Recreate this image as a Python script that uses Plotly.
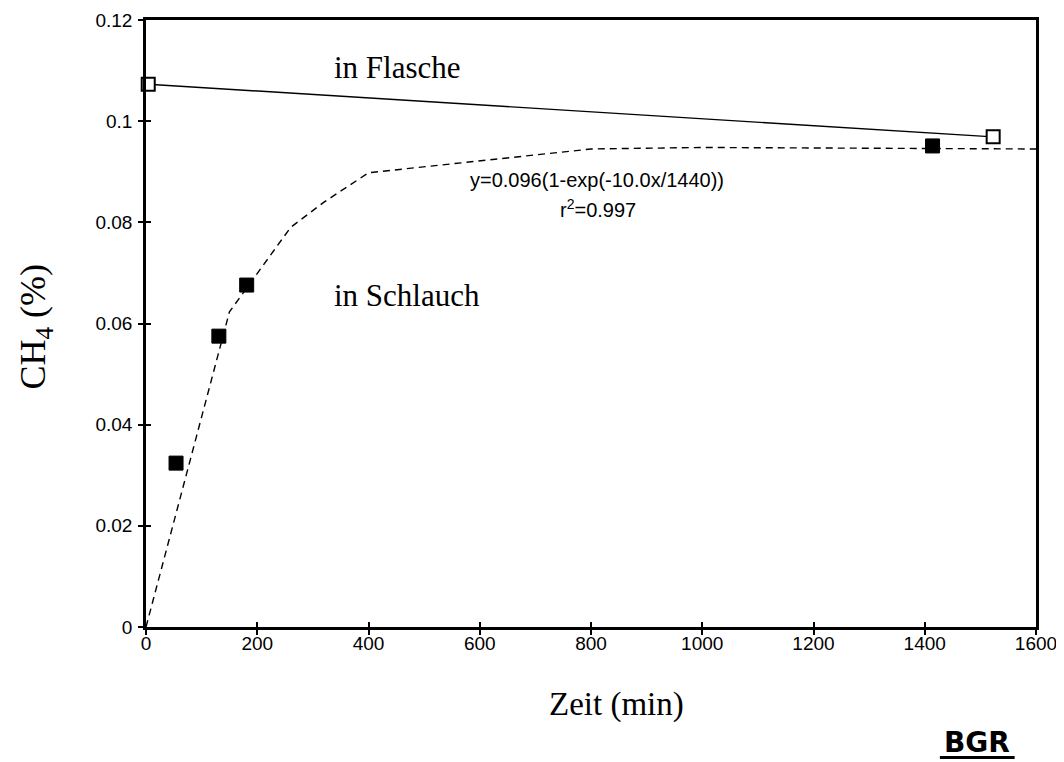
import plotly.graph_objects as go

# Data
flasche_x = [4, 1523]
flasche_y = [0.1073, 0.0969]

schlauch_x = [54, 131, 181, 1414]
schlauch_y = [0.0324, 0.0575, 0.0676, 0.0951]

fit_x = [0, 150, 260, 320, 400, 800, 1000, 1600]
fit_y = [0.0, 0.0623, 0.0790, 0.0840, 0.0898, 0.0945, 0.0948, 0.0945]

x_ticks = [0, 200, 400, 600, 800, 1000, 1200, 1400, 1600]
y_ticks = [0, 0.02, 0.04, 0.06, 0.08, 0.1, 0.12]
y_tick_text = ["0", "0.02", "0.04", "0.06", "0.08", "0.1", "0.12"]

serif = "Liberation Serif, Times New Roman, serif"
sans = "Liberation Sans, Arial, sans-serif"

fig = go.Figure()

fig.add_trace(go.Scatter(
    x=fit_x, y=fit_y, mode="lines",
    line=dict(color="black", width=1.4, dash="7px,5px"),
    showlegend=False, hoverinfo="skip"))

fig.add_trace(go.Scatter(
    x=flasche_x, y=flasche_y, mode="lines+markers",
    line=dict(color="black", width=1.4),
    marker=dict(symbol="square", size=13, color="white",
                line=dict(color="black", width=2)),
    showlegend=False, cliponaxis=False))

fig.add_trace(go.Scatter(
    x=schlauch_x, y=schlauch_y, mode="markers",
    marker=dict(symbol="square", size=14, color="black",
                line=dict(color="black", width=1)),
    showlegend=False, cliponaxis=False))

# overlay axes to give crossing tick marks
fig.add_trace(go.Scatter(x=[None], y=[None], xaxis="x2", yaxis="y2",
                         showlegend=False, hoverinfo="skip"))

axis_common = dict(showgrid=False, zeroline=False, showline=True,
                   linecolor="black", linewidth=2.5, mirror=True,
                   automargin=False, ticklabeloverflow="allow",
                   ticks="outside", ticklen=5, tickwidth=1.5, tickcolor="black",
                   tickfont=dict(family=sans, size=19, color="black"))

# page body has an 8px default margin, so the figure is offset by 8px
fig.update_layout(
    width=1056, height=754,
    margin=dict(l=138, r=28, t=12, b=135, autoexpand=False),
    paper_bgcolor="white", plot_bgcolor="white",
    xaxis=dict(range=[0, 1600], tickvals=x_ticks,
               ticktext=[str(v) for v in x_ticks],
               ticklabelstandoff=-8,
               **axis_common),
    yaxis=dict(range=[0, 0.12], tickvals=y_ticks, ticktext=y_tick_text,
               ticklabelstandoff=2,
               **axis_common),
    xaxis2=dict(range=[0, 1600], tickvals=x_ticks, showticklabels=False,
                overlaying="x", showgrid=False, zeroline=False, showline=False,
                ticks="inside", ticklen=5, tickwidth=1.5, tickcolor="black",
                anchor="y2", side="bottom", automargin=False),
    yaxis2=dict(range=[0, 0.12], tickvals=y_ticks, showticklabels=False,
                overlaying="y", showgrid=False, zeroline=False, showline=False,
                ticks="inside", ticklen=5, tickwidth=1.5, tickcolor="black",
                anchor="x2", side="left", automargin=False),
)

# axis titles
fig.add_annotation(xref="paper", yref="paper", x=-0.1236, y=0.495,
                   xanchor="center", yanchor="middle",
                   text="CH<sub>4</sub> (%)", textangle=-90, showarrow=False,
                   font=dict(family=serif, size=36, color="black"))
fig.add_annotation(xref="paper", yref="paper", x=0.529, y=-0.1285,
                   xanchor="center", yanchor="middle",
                   text="Zeit (min)", showarrow=False,
                   font=dict(family=serif, size=33, color="black"))

# in-plot labels
fig.add_annotation(x=335, y=0.1106, text="in Flasche", showarrow=False,
                   xanchor="left", yanchor="middle",
                   font=dict(family=serif, size=31, color="black"))
fig.add_annotation(x=335, y=0.0656, text="in Schlauch", showarrow=False,
                   xanchor="left", yanchor="middle",
                   font=dict(family=serif, size=31, color="black"))
fig.add_annotation(x=810, y=0.0884, text="y=0.096(1-exp(-10.0x/1440))", showarrow=False,
                   xanchor="center", yanchor="middle",
                   font=dict(family=sans, size=20, color="black"))
fig.add_annotation(x=812, y=0.0828, text="r<sup>2</sup>=0.997", showarrow=False,
                   xanchor="center", yanchor="middle",
                   font=dict(family=sans, size=20, color="black"))

# BGR logo
fig.add_annotation(xref="paper", yref="paper", x=0.934, y=-0.1895,
                   xanchor="center", yanchor="middle",
                   text="<b>BGR</b>", showarrow=False,
                   font=dict(family="DejaVu Sans, Arial Black, sans-serif", size=28, color="black"))
fig.add_shape(type="line", xref="paper", yref="paper",
              x0=0.892, x1=0.976, y0=-0.215, y1=-0.215,
              line=dict(color="black", width=3))

fig.write_html("out.html")
